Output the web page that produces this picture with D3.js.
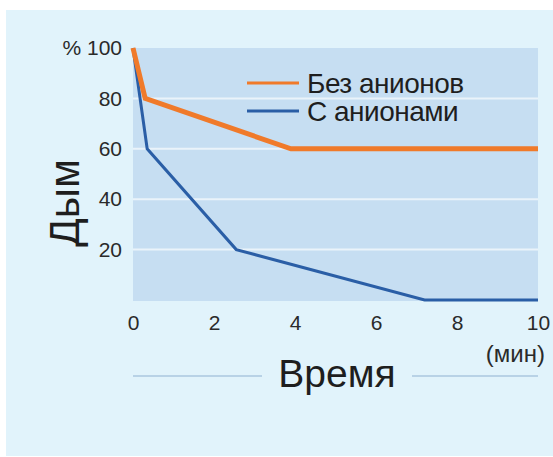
<!DOCTYPE html>
<html>
<head>
<meta charset="utf-8">
<script src="https://cdn.jsdelivr.net/npm/d3@7"></script>
<style>
  html, body { margin: 0; padding: 0; background: #ffffff; }
  svg { display: block; font-family: "Liberation Sans", Arial, sans-serif; }
</style>
</head>
<body>
<div id="chart"></div>
<script>
// Smoke level vs time, with and without anions

const xTicks = [0, 2, 4, 6, 8, 10];
const yTicks = [20, 40, 60, 80, 100];
const gridValues = [20, 40, 60, 80];

const seriesNames = ["Без анионов", "С анионами"];
const seriesColors = ["#f07a2a", "#2a5ea6"];
const seriesWidths = [5, 3];

const withoutX = [0, 0.3, 3.9, 10];
const withoutY = [100, 80, 60, 60];
const withX = [0, 0.35, 2.55, 7.2, 10];
const withY = [100, 60, 20, 0, 0];

const width = 553, height = 457;
const plot = { left: 133, right: 538, top: 48, bottom: 301 };
const FONT = "'Liberation Sans', Arial, sans-serif";

const svg = d3.select("#chart").append("svg")
    .attr("width", width)
    .attr("height", height);

// outer panel
svg.append("rect")
    .attr("x", 6).attr("y", 10)
    .attr("width", width - 6).attr("height", height - 11)
    .attr("fill", "#e1f3fb");

const x = d3.scaleLinear().domain([0, 10]).range([plot.left, plot.right]);
const y = d3.scaleLinear().domain([0, 100]).range([300, plot.top]);

// plot area
svg.append("rect")
    .attr("x", plot.left).attr("y", plot.top)
    .attr("width", plot.right - plot.left)
    .attr("height", plot.bottom - plot.top)
    .attr("fill", "#c6def2");

// grid
svg.append("g").selectAll("line")
    .data(gridValues)
    .enter().append("line")
    .attr("x1", plot.left).attr("x2", plot.right)
    .attr("y1", d => y(d)).attr("y2", d => y(d))
    .attr("stroke", "#eaf3fa")
    .attr("stroke-width", 2);

// y tick labels
const yAxis = svg.append("g")
    .attr("transform", `translate(${plot.left - 11},0)`)
    .call(d3.axisLeft(y).tickValues(yTicks).tickSize(0).tickPadding(0));
yAxis.select(".domain").remove();
yAxis.attr("font-size", 21).attr("font-family", FONT);
yAxis.selectAll("text")
    .attr("fill", "#2a2a2a")
    .text(d => d === 100 ? "% 100" : d);

// x tick labels
const xAxis = svg.append("g")
    .attr("transform", `translate(0,315)`)
    .call(d3.axisBottom(x).tickValues(xTicks).tickSize(0).tickPadding(0));
xAxis.select(".domain").remove();
xAxis.attr("font-size", 21).attr("font-family", FONT);
xAxis.selectAll("text")
    .attr("fill", "#2a2a2a");

// lines
const line = d3.line().x(d => x(d[0])).y(d => y(d[1]));
const series = [
    d3.zip(withoutX, withoutY),
    d3.zip(withX, withY)
];
// draw blue first so orange lies on top at the start
[1, 0].forEach(i => {
    svg.append("path")
        .datum(series[i])
        .attr("d", line)
        .attr("fill", "none")
        .attr("stroke", seriesColors[i])
        .attr("stroke-width", seriesWidths[i])
        .attr("stroke-linejoin", "miter");
});

// legend
const legend = svg.append("g");
seriesNames.forEach((name, i) => {
    const ly = 83 + i * 28;
    legend.append("line")
        .attr("x1", 247).attr("x2", 299)
        .attr("y1", ly).attr("y2", ly)
        .attr("stroke", seriesColors[i])
        .attr("stroke-width", 3);
    legend.append("text")
        .attr("x", 307).attr("y", ly + 10)
        .attr("font-size", 28)
        .attr("letter-spacing", -0.5)
        .attr("fill", "#1e1e1e")
        .text(name);
});

// y axis title
svg.append("text")
    .attr("transform", "translate(79,203) rotate(-90)")
    .attr("text-anchor", "middle")
    .attr("font-size", 42)
    .attr("fill", "#1e1e1e")
    .text("Дым");

// x axis title with side rules
svg.append("line")
    .attr("x1", 133).attr("x2", 262).attr("y1", 376).attr("y2", 376)
    .attr("stroke", "#b8d2e6").attr("stroke-width", 2);
svg.append("line")
    .attr("x1", 412).attr("x2", 538).attr("y1", 376).attr("y2", 376)
    .attr("stroke", "#b8d2e6").attr("stroke-width", 2);
svg.append("text")
    .attr("x", 337).attr("y", 387)
    .attr("text-anchor", "middle")
    .attr("font-size", 39)
    .attr("fill", "#1e1e1e")
    .text("Время");

svg.append("text")
    .attr("x", 545).attr("y", 362)
    .attr("text-anchor", "end")
    .attr("font-size", 24)
    .attr("fill", "#2a2a2a")
    .text("(мин)");
</script>
</body>
</html>
